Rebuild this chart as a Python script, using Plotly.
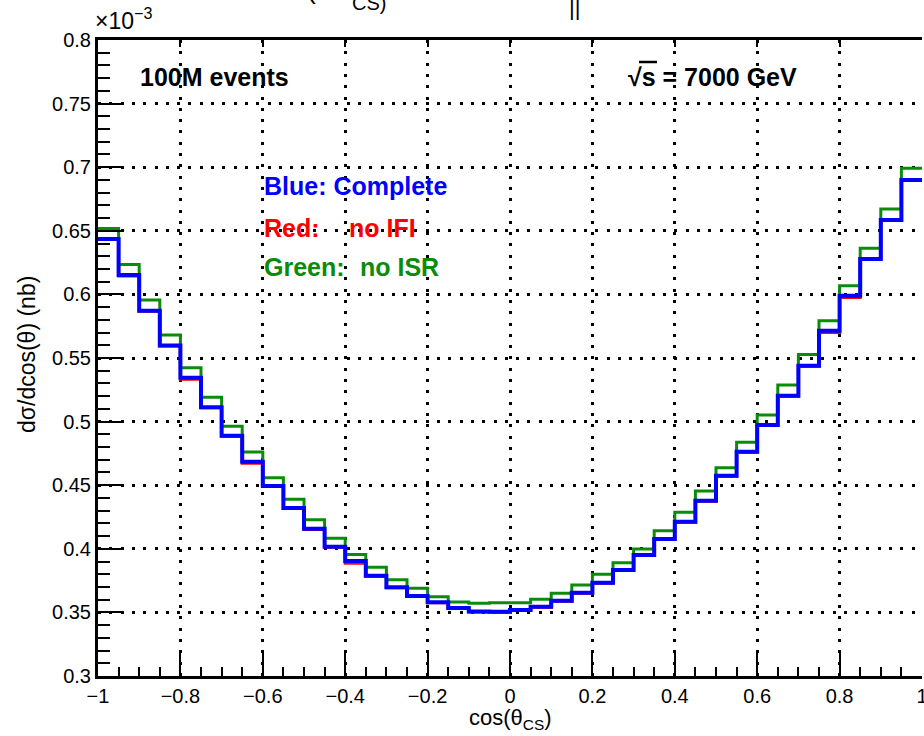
import numpy as np
import plotly.graph_objects as go

# 40 bins of cos(theta_CS) over [-1, 1]; cross sections in units of 1e-3 nb
bin_edges = np.linspace(-1.0, 1.0, 41)

complete = [0.6435, 0.6152, 0.5871, 0.5599, 0.5345, 0.5112, 0.4889, 0.4684,
            0.4493, 0.4320, 0.4158, 0.4017, 0.3904, 0.3789, 0.3697, 0.3629,
            0.3579, 0.3534, 0.3508, 0.3505, 0.3519, 0.3545, 0.3592, 0.3655,
            0.3733, 0.3833, 0.3951, 0.4077, 0.4213, 0.4378, 0.4574, 0.4763,
            0.4973, 0.5203, 0.5439, 0.5714, 0.5989, 0.6278, 0.6584, 0.6899]

no_ifi = [0.6431, 0.6144, 0.5867, 0.5594, 0.5332, 0.5108, 0.4885, 0.4672,
          0.4489, 0.4316, 0.4152, 0.4013, 0.3886, 0.3785, 0.3693, 0.3625,
          0.3575, 0.3530, 0.3504, 0.3501, 0.3515, 0.3541, 0.3588, 0.3651,
          0.3729, 0.3829, 0.3947, 0.4073, 0.4209, 0.4374, 0.4570, 0.4759,
          0.4969, 0.5199, 0.5435, 0.5701, 0.5976, 0.6274, 0.6580, 0.6895]

no_isr = [0.6519, 0.6236, 0.5955, 0.5680, 0.5423, 0.5191, 0.4963, 0.4761,
          0.4559, 0.4389, 0.4229, 0.4082, 0.3956, 0.3854, 0.3757, 0.3689,
          0.3623, 0.3582, 0.3572, 0.3576, 0.3576, 0.3603, 0.3650, 0.3715,
          0.3799, 0.3891, 0.3998, 0.4142, 0.4287, 0.4454, 0.4637, 0.4837,
          0.5051, 0.5287, 0.5528, 0.5793, 0.6068, 0.6362, 0.6671, 0.6991]

x_ticks = [-1.0, -0.8, -0.6, -0.4, -0.2, 0.0, 0.2, 0.4, 0.6, 0.8, 1.0]
y_ticks = [0.3, 0.35, 0.4, 0.45, 0.5, 0.55, 0.6, 0.65, 0.7, 0.75, 0.8]

FONT = "Liberation Sans, Arial, Helvetica, sans-serif"
GREEN = "#0a8c0a"


def step_xy(values):
    # left edge of every bin, plus the final right edge to close the last step
    xs = list(bin_edges[:-1]) + [bin_edges[-1]]
    ys = list(values) + [values[-1]]
    return xs, ys


fig = go.Figure()

xr, yr = step_xy(no_ifi)
fig.add_trace(go.Scatter(x=xr, y=yr, mode="lines", line=dict(color="#ff0000", width=3, shape="hv"),
                         showlegend=False, hoverinfo="skip"))
xg, yg = step_xy(no_isr)
fig.add_trace(go.Scatter(x=xg, y=yg, mode="lines", line=dict(color=GREEN, width=3, shape="hv"),
                         showlegend=False, hoverinfo="skip"))
xb, yb = step_xy(complete)
fig.add_trace(go.Scatter(x=xb, y=yb, mode="lines", line=dict(color="#0000ff", width=4, shape="hv"),
                         showlegend=False, hoverinfo="skip", xaxis="x2"))

grid_dash = "3px,8.3px"

fig.update_layout(
    width=924, height=736,
    margin=dict(l=98, r=2, t=40, b=60, autoexpand=False),
    paper_bgcolor="white", plot_bgcolor="white",
    font=dict(family=FONT, color="black", size=20),
    xaxis=dict(
        range=[-1, 1], tickvals=x_ticks, ticks="inside", ticklen=26, tickwidth=2,
        tickcolor="black", showline=True, linewidth=3, linecolor="black", mirror=True,
        showgrid=True, gridcolor="black", gridwidth=2.5, griddash=grid_dash,
        zeroline=False, tickfont=dict(size=20, family=FONT), ticklabeloverflow="allow",
        automargin=False,
        minor=dict(ticks="inside", ticklen=9, tickwidth=2, tickcolor="black", dtick=0.05,
                   showgrid=False),
    ),
    xaxis2=dict(
        range=[-1, 1], overlaying="x", side="top", tickvals=x_ticks, ticks="inside",
        ticklen=7, tickwidth=2, tickcolor="black", showticklabels=False, showline=False,
        showgrid=False, zeroline=False, automargin=False,
    ),
    yaxis=dict(
        range=[0.3, 0.8], tickvals=y_ticks, ticks="inside", ticklen=25, tickwidth=2,
        tickcolor="black", showline=True, linewidth=3, linecolor="black", mirror=False,
        showgrid=True, gridcolor="black", gridwidth=2.5, griddash=grid_dash,
        zeroline=False, tickfont=dict(size=20, family=FONT), automargin=False,
        minor=dict(ticks="inside", ticklen=12, tickwidth=2, tickcolor="black", dtick=0.01,
                   showgrid=False),
    ),
)


def px_x(px):
    return (px - 98) / 824


def px_y(py):
    return (676 - py) / 636


annos = [
    dict(text="<b>100M events</b>", x=px_x(138), y=px_y(77), xanchor="left", yanchor="middle",
         font=dict(size=25, color="black")),
    dict(text="<b>√s = 7000 GeV</b>", x=px_x(626), y=px_y(77), xanchor="left", yanchor="middle",
         font=dict(size=25, color="black")),
    dict(text="<b>Blue: Complete</b>", x=px_x(262), y=px_y(186), xanchor="left", yanchor="middle",
         font=dict(size=25, color="#0000ff")),
    dict(text="<b>Red:</b>", x=px_x(262), y=px_y(228), xanchor="left", yanchor="middle",
         font=dict(size=25, color="#ff0000")),
    dict(text="<b>no IFI</b>", x=px_x(347), y=px_y(228), xanchor="left", yanchor="middle",
         font=dict(size=25, color="#ff0000")),
    dict(text="<b>Green:</b>", x=px_x(262), y=px_y(267), xanchor="left", yanchor="middle",
         font=dict(size=25, color=GREEN)),
    dict(text="<b>no ISR</b>", x=px_x(358), y=px_y(267), xanchor="left", yanchor="middle",
         font=dict(size=25, color=GREEN)),
    dict(text="×10<sup>−3</sup>", x=px_x(93), y=px_y(36), xanchor="left", yanchor="bottom",
         font=dict(size=23, color="black")),
    dict(text="dσ/dcos(θ) (nb)", x=px_x(27), y=px_y(355), xanchor="center", yanchor="middle",
         textangle=-90, font=dict(size=23, color="black")),
    dict(text="cos(θ<sub>CS</sub>)", x=px_x(510), y=px_y(703), xanchor="center", yanchor="top",
         font=dict(size=22, color="black")),
    # title, mostly above the visible page
    dict(text="cos(θ", x=px_x(333), y=px_y(6), xanchor="right", yanchor="bottom",
         font=dict(size=28, color="black")),
    dict(text="CS)", x=px_x(350), y=px_y(16), xanchor="left", yanchor="bottom",
         font=dict(size=20, color="black")),
    dict(text="||", x=px_x(574), y=px_y(22), xanchor="center", yanchor="bottom",
         font=dict(size=22, color="black")),
]
for a in annos:
    a.update(xref="paper", yref="paper", showarrow=False)
fig.update_layout(annotations=annos)

# overline of the square root
fig.add_shape(type="line", xref="paper", yref="paper",
              x0=px_x(639), x1=px_x(657), y0=px_y(62), y1=px_y(62),
              line=dict(color="black", width=2.5))

fig.write_html("out.html")
